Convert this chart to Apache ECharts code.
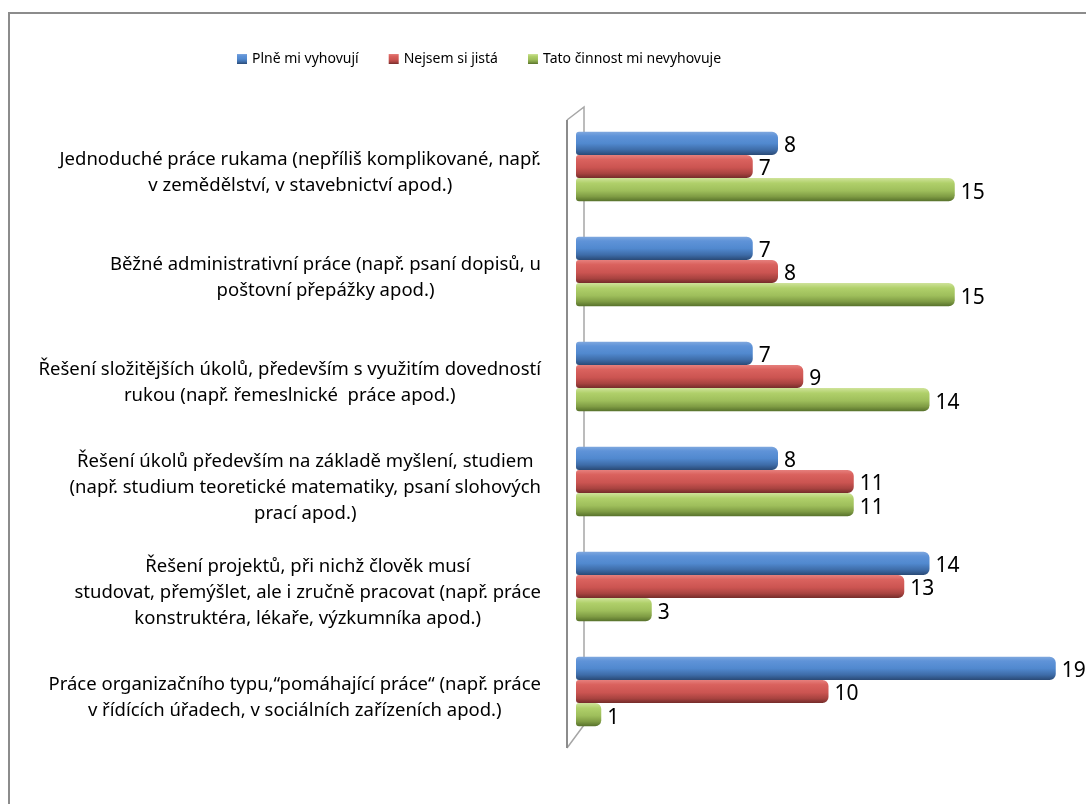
<!DOCTYPE html>
<html>
<head>
<meta charset="utf-8">
<style>
  html, body { margin: 0; padding: 0; background: #fff; overflow: hidden; }
  #chart { width: 1086px; height: 804px; }
</style>
<script src="https://cdn.jsdelivr.net/npm/echarts@6/dist/echarts.min.js"></script>
</head>
<body>
<div id="chart"></div>
<script>
// Job types (category labels, wrapped as they appear)
const categories = [
  'Jednoduché práce rukama (nepříliš komplikované, např.\nv zemědělství, v stavebnictví apod.)',
  'Běžné administrativní práce (např. psaní dopisů, u\npoštovní přepážky apod.)',
  'Řešení složitějších úkolů, především s využitím dovedností\nrukou (např. řemeslnické  práce apod.)',
  'Řešení úkolů především na základě myšlení, studiem\n(např. studium teoretické matematiky, psaní slohových\nprací apod.)',
  'Řešení projektů, při nichž člověk musí\nstudovat, přemýšlet, ale i zručně pracovat (např. práce\nkonstruktéra, lékaře, výzkumníka apod.)',
  'Práce organizačního typu,“pomáhající práce“ (např. práce\nv řídících úřadech, v sociálních zařízeních apod.)'
];

const seriesNames = ['Plně mi vyhovují', 'Nejsem si jistá', 'Tato činnost mi nevyhovuje'];

const fullyFits = [8, 7, 7, 8, 14, 19];
const notSure = [7, 8, 9, 11, 13, 10];
const doesNotFit = [15, 15, 14, 11, 3, 1];

// Layout
const GRID = { left: 576, right: 5, top: 114, bottom: 60 };
const FONT = '"Noto Sans", sans-serif';

function cylinder(stops) {
  return new echarts.graphic.LinearGradient(0, 0, 0, 1,
    stops.map(c => ({ offset: c[0], color: c[1] })));
}

const fills = [
  cylinder([[0, '#7ea7de'], [0.18, '#5f93d8'], [0.5, '#5189cf'], [0.78, '#3e6ca8'], [1, '#2a4a76']]),
  cylinder([[0, '#e6807d'], [0.2, '#da625e'], [0.55, '#cb5451'], [0.8, '#a84340'], [1, '#742c2a']]),
  cylinder([[0, '#cfe39a'], [0.22, '#b0d06a'], [0.55, '#9ebe5b'], [0.8, '#7f9c44'], [1, '#58722c']])
];

const chart = echarts.init(document.getElementById('chart'), null, { renderer: 'canvas' });

function makeSeries(name, data, idx) {
  return {
    name: name,
    type: 'bar',
    data: data,
    barGap: '0%',
    barCategoryGap: '34%',
    itemStyle: {
      color: fills[idx],
      borderRadius: [3, 6, 6, 3]
    },
    label: {
      show: true,
      position: 'right',
      distance: 6,
      offset: [0, 3],
      color: '#000',
      fontFamily: FONT,
      fontSize: 21
    },
    emphasis: { disabled: true }
  };
}

// Position of the wall behind the bars
const wallFront = GRID.left - 9;
const wallBack = GRID.left + 8;
const gridBottomY = 804 - GRID.bottom;

chart.setOption({
  backgroundColor: '#fff',
  animation: false,
  color: ['#4f81bd', '#c0504d', '#9bbb59'],
  legend: {
    data: seriesNames,
    left: 232,
    top: 47,
    icon: 'rect',
    itemWidth: 10,
    itemHeight: 10,
    itemGap: 30,
    textStyle: { fontFamily: FONT, fontSize: 14, color: '#000' }
  },
  grid: GRID,
  xAxis: {
    type: 'value',
    min: 0,
    max: 20,
    show: false
  },
  yAxis: {
    type: 'category',
    data: categories,
    inverse: true,
    axisLine: { show: false },
    axisTick: { show: false },
    axisLabel: {
      margin: 35,
      align: 'right',
      padding: [12, 0, 0, 0],
      formatter: function (v) {
        return v.split('\n').map(l => '{c|' + l + '}').join('\n');
      },
      rich: {
        c: {
          align: 'center',
          fontFamily: FONT,
          fontSize: 18.5,
          lineHeight: 26,
          color: '#000'
        }
      }
    }
  },
  graphic: [
    // outer frame
    {
      type: 'rect',
      shape: { x: 9, y: 13, width: 1200, height: 900 },
      style: { fill: 'none', stroke: '#8c8c8c', lineWidth: 2 },
      silent: true
    },
    // back edge of the wall
    {
      type: 'polyline',
      shape: { points: [[wallFront, GRID.top + 6], [wallBack, GRID.top - 7], [wallBack, gridBottomY - 19], [wallFront, gridBottomY + 4]] },
      style: { fill: 'none', stroke: '#a6a6a6', lineWidth: 1.5 },
      z: -1,
      silent: true
    },
    // front edge of the wall
    {
      type: 'line',
      shape: { x1: wallFront, y1: GRID.top + 6, x2: wallFront, y2: gridBottomY + 4 },
      style: { stroke: '#8c8c8c', lineWidth: 2 },
      z: 10,
      silent: true
    }
  ],
  series: [
    makeSeries(seriesNames[0], fullyFits, 0),
    makeSeries(seriesNames[1], notSure, 1),
    makeSeries(seriesNames[2], doesNotFit, 2)
  ]
});
</script>
</body>
</html>
